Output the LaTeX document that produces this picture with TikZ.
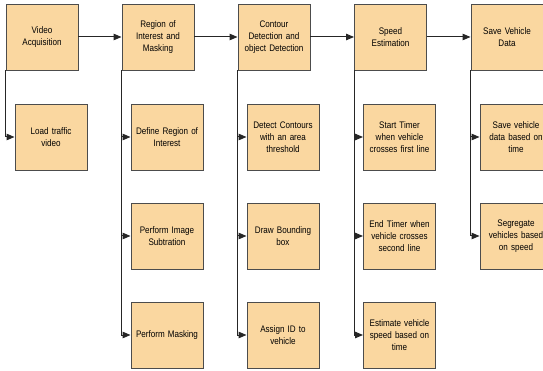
\documentclass[tikz,border=0pt]{standalone}
\usepackage{fontspec}
\setmainfont{Liberation Sans}[FakeStretch=0.85]
\usepackage{xcolor}
\definecolor{boxfill}{HTML}{FAD7A0}
\usetikzlibrary{arrows.meta}

\begin{document}
\begin{tikzpicture}[x=1pt,y=-1pt,>={Triangle[length=8pt,width=6.5pt]},
  stage/.style={draw=black!70,fill=boxfill,line width=0.9pt,minimum width=72pt,minimum height=66pt,text width=68pt,align=center,inner sep=0pt,font=\fontsize{9.5}{12}\selectfont},
  link/.style={->,line width=1pt,black!85}]
\clip (0,0) rectangle (543,371);
% top row
\node[stage] (va) at (42,37) {Video\\Acquisition};
\node[stage] (roi) at (158,37) {Region of\\Interest and\\Masking};
\node[stage] (cd) at (274,37) {Contour\\Detection and\\object Detection};
\node[stage] (se) at (390.5,37) {Speed\\Estimation};
\node[stage] (sv) at (507,37) {Save Vehicle\\Data};
% sub steps
\node[stage] (load) at (51,137) {Load traffic\\video};
\node[stage] (defroi) at (167,137) {Define Region of\\Interest};
\node[stage] (sub) at (167,236) {Perform Image\\Subtration};
\node[stage] (mask) at (167,335) {Perform Masking};
\node[stage] (cont) at (283,137) {Detect Contours\\with an area\\threshold};
\node[stage] (bbox) at (283,236) {Draw Bounding\\box};
\node[stage] (vid) at (283,335) {Assign ID to\\vehicle};
\node[stage] (start) at (399.5,137) {Start Timer\\when vehicle\\crosses first line};
\node[stage] (stop) at (399.5,236) {End Timer when\\vehicle crosses\\second line};
\node[stage] (est) at (399.5,335) {Estimate vehicle\\speed based on\\time};
\node[stage] (save) at (516,137) {Save vehicle\\data based on\\time};
\node[stage] (seg) at (516,236) {Segregate\\vehicles based\\on speed};
% main flow
\draw[link] (va) -- (roi);
\draw[link] (roi) -- (cd);
\draw[link] (cd) -- (se);
\draw[link] (se) -- (sv);
% branches
\draw[link] (va.south west) |- (load.west);
\draw[link] (roi.south west) |- (defroi.west);
\draw[link] (roi.south west) |- (sub.west);
\draw[link] (roi.south west) |- (mask.west);
\draw[link] (cd.south west) |- (cont.west);
\draw[link] (cd.south west) |- (bbox.west);
\draw[link] (cd.south west) |- (vid.west);
\draw[link] (se.south west) |- (start.west);
\draw[link] (se.south west) |- (stop.west);
\draw[link] (se.south west) |- (est.west);
\draw[link] (sv.south west) |- (save.west);
\draw[link] (sv.south west) |- (seg.west);
\end{tikzpicture}
\end{document}
